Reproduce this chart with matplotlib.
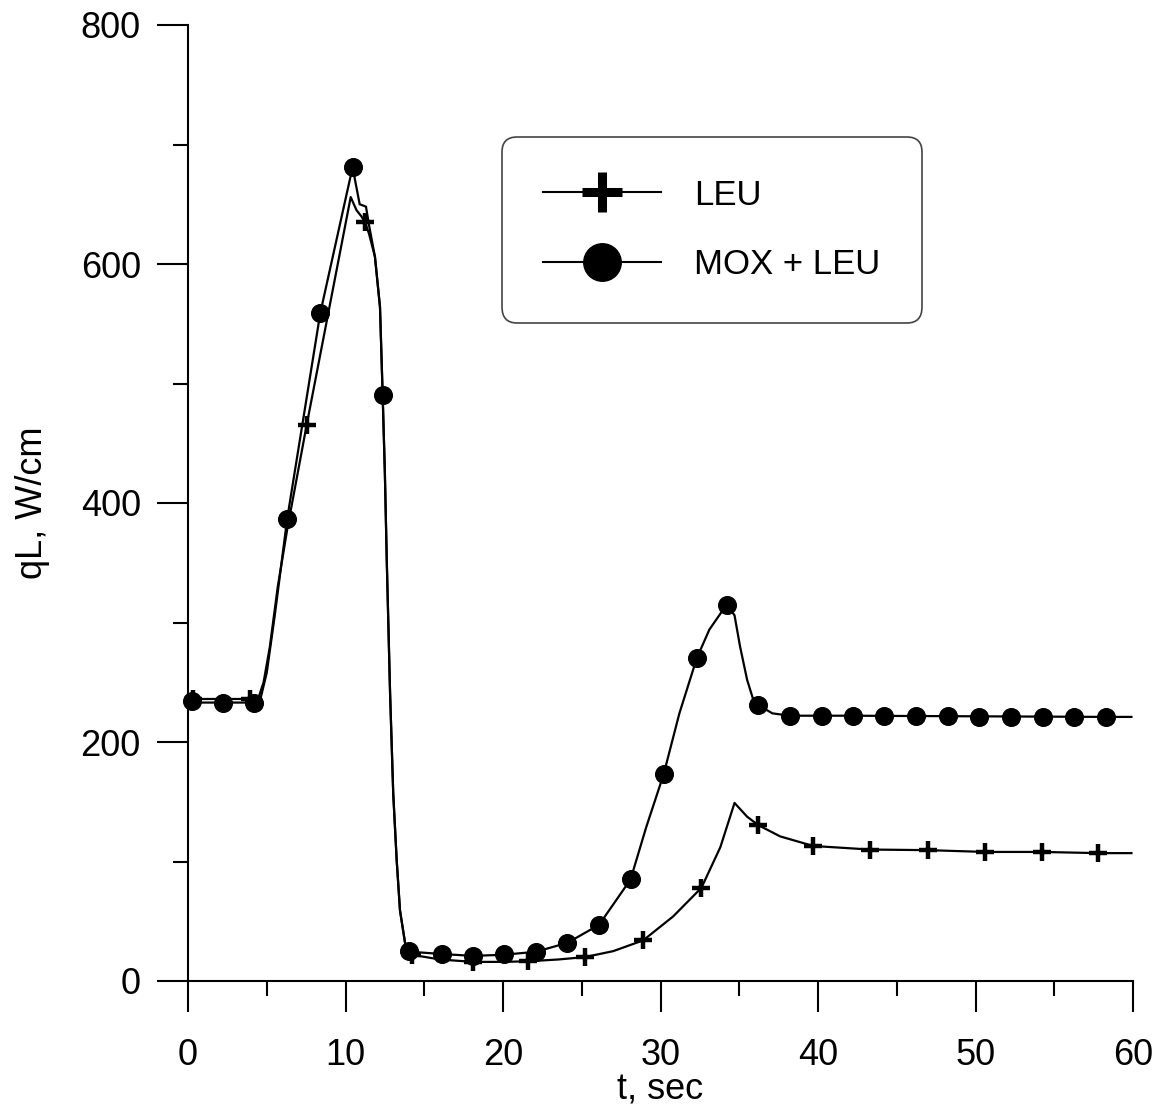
import numpy as np
import matplotlib
matplotlib.use("Agg")
import matplotlib.pyplot as plt
from matplotlib.ticker import MultipleLocator

plt.rcParams['font.family'] = ['Liberation Sans', 'DejaVu Sans']

# curve: MOX + LEU core
mox_t = [0.2, 2.2, 4.2, 4.6, 5.0, 5.5, 6.3, 8.4, 10.45, 10.9, 11.3, 11.5, 11.87,
         12.19, 12.36, 12.5, 12.62, 12.83, 13.03, 13.25, 13.46, 13.78, 14.0, 14.1,
         16.1, 18.1, 20.1, 22.1, 24.1, 26.1, 27.1, 28.1, 29.1, 30.2, 31.2, 32.3,
         33.1, 34.2, 34.7, 35.05, 35.5, 35.9, 36.2, 37.1, 38.2, 42.0, 50.0, 58.3, 59.9]
mox_q = [233, 233, 233, 236, 258, 305, 387, 559, 681, 650, 648, 632, 606,
         564, 490, 425, 352, 241, 157, 101, 59, 32, 26, 24.5,
         22.6, 21, 22, 24.5, 32, 47, 66, 85, 129, 173, 224, 270,
         294, 315, 306, 280, 252, 235, 231, 224, 222, 222, 221.5, 221, 221]

# curve: LEU core
leu_t = [0.2, 3.9, 4.5, 4.8, 5.2, 5.7, 6.3, 7.53, 10.33, 10.7, 11.0, 11.24, 11.5,
         11.87, 12.19, 12.36, 12.5, 12.62, 12.83, 13.03, 13.25, 13.46, 13.78, 14.0,
         14.2, 16.0, 18.1, 20.0, 21.6, 23.5, 25.2, 27.0, 28.9, 30.8, 32.6, 33.8,
         34.7, 35.5, 36.2, 37.6, 39.7, 43.3, 47.0, 50.6, 54.2, 57.8, 59.9]
leu_q = [236, 236, 238, 250, 280, 330, 378, 465, 656, 645, 640, 635, 625,
         606, 564, 490, 425, 352, 241, 157, 101, 59, 32, 25,
         22, 18, 16, 16, 16.5, 18, 20, 25, 34, 54, 78, 112,
         149, 137.5, 130.5, 121, 113, 110, 109.5, 108, 108, 107, 107]

# marker positions
mox_mark_t = [0.23, 2.24, 4.2, 6.3, 8.38, 10.45, 12.36, 14.05, 16.1, 18.08, 20.08,
              22.1, 24.05, 26.1, 28.1, 30.2, 32.3, 34.2, 36.2, 38.22, 40.25, 42.22,
              44.19, 46.22, 48.25, 50.22, 52.25, 54.29, 56.25, 58.29]
mox_mark_q = [234, 233, 233, 387, 559, 681, 490, 25, 22.6, 21, 22.3,
              24.5, 32, 47, 85, 173, 270, 315, 231, 222, 222, 222,
              222, 222, 222, 221, 221, 221, 221, 221]

leu_mark_t = [0.3, 3.94, 7.53, 11.24, 14.2, 18.08, 21.6, 25.2, 28.9, 32.6, 36.2,
              39.7, 43.3, 47.0, 50.6, 54.2, 57.8]
leu_mark_q = [236, 236, 465, 635, 22, 16, 16.5, 20, 34, 78, 130.5,
              113, 110, 109.5, 108, 108, 107]

fig = plt.figure(figsize=(11.61, 11.15), dpi=100)
ax = fig.add_axes([188/1161, 1 - 981/1115, 945/1161, 956/1115])

ax.plot(mox_t, mox_q, 'k-', lw=1.6, zorder=3)
ax.plot(leu_t, leu_q, 'k-', lw=1.6, zorder=3)
ax.plot(mox_mark_t, mox_mark_q, 'ko', ms=12.7, ls='none', clip_on=False, zorder=4)
ax.plot(leu_mark_t, leu_mark_q, 'k+', ms=12.5, mew=3.2, ls='none', clip_on=False, zorder=5)

# legend proxies (line + marker)
h_leu, = ax.plot([], [], 'k-', lw=1.5, marker='+', ms=29, mew=6.5, label='LEU')
h_mox, = ax.plot([], [], 'k-', lw=1.5, marker='o', ms=27, label='MOX + LEU')
leg = ax.legend(handles=[h_leu, h_mox], loc='upper left',
                bbox_to_anchor=(0.332, 0.883), borderaxespad=0,
                fontsize=25, handlelength=3.4, handletextpad=0.95,
                borderpad=1.2, labelspacing=1.05, numpoints=1,
                fancybox=True, framealpha=1, edgecolor='#444444')
leg.get_frame().set_linewidth(1.2)
leg.get_frame().set_boxstyle('round,pad=0,rounding_size=0.45')

ax.set_xlim(0, 60)
ax.set_ylim(0, 800)
ax.xaxis.set_major_locator(MultipleLocator(10))
ax.xaxis.set_minor_locator(MultipleLocator(5))
ax.yaxis.set_major_locator(MultipleLocator(200))
ax.yaxis.set_minor_locator(MultipleLocator(100))

for s in ['top', 'right']:
    ax.spines[s].set_visible(False)
for s in ['left', 'bottom']:
    ax.spines[s].set_linewidth(1.5)

ax.tick_params(which='major', direction='out', length=22, width=1.5, labelsize=26)
ax.tick_params(which='minor', direction='out', length=11, width=1.5)
ax.tick_params(axis='x', which='major', pad=19)
ax.tick_params(axis='y', which='major', pad=12)

ax.set_xlabel('t, sec', fontsize=26, labelpad=0)
ax.set_ylabel('qL, W/cm', fontsize=26, labelpad=22)

fig.savefig('out.png', dpi=100)
